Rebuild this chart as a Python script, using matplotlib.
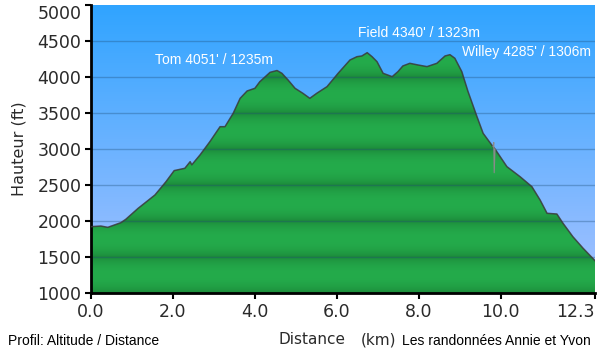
import numpy as np
import matplotlib
matplotlib.use("Agg")
import matplotlib.pyplot as plt

# ---- data ----
distance_km = [0.00, 0.24, 0.41, 0.73, 0.85, 1.15, 1.56, 1.83, 2.03, 2.29, 2.42, 2.46,
               2.66, 2.90, 3.15, 3.27, 3.47, 3.64, 3.81, 4.00, 4.12, 4.37, 4.54, 4.66,
               4.81, 4.98, 5.17, 5.34, 5.51, 5.76, 6.03, 6.32, 6.49, 6.61, 6.74, 6.86,
               6.98, 7.13, 7.35, 7.49, 7.61, 7.78, 7.98, 8.20, 8.44, 8.64, 8.76, 8.88,
               9.05, 9.20, 9.42, 9.57, 9.81, 9.83, 9.84, 9.86, 10.15, 10.47, 10.76,
               10.96, 11.13, 11.37, 11.52, 11.76, 12.01, 12.30]
elevation_ft = [1921, 1930, 1912, 1977, 2024, 2176, 2361, 2546, 2700, 2732, 2824, 2780,
                2917, 3101, 3310, 3310, 3496, 3704, 3806, 3843, 3935, 4065, 4090, 4051,
                3958, 3843, 3774, 3704, 3774, 3866, 4051, 4236, 4282, 4292, 4338, 4282,
                4213, 4051, 4005, 4074, 4153, 4190, 4167, 4144, 4190, 4292, 4310, 4260,
                4074, 3800, 3449, 3218, 3032, 3090, 2670, 3000, 2755, 2616, 2477,
                2292, 2107, 2097, 1968, 1782, 1621, 1449]

peak_labels = ["Tom 4051' / 1235m", "Field 4340' / 1323m", "Willey 4285' / 1306m"]
peak_label_pos = [(3.00, 4236), (8.00, 4611), (10.64, 4347)]
x_ticks = [0.0, 2.0, 4.0, 6.0, 8.0, 10.0, 12.3]
x_tick_labels = ["0.0", "2.0", "4.0", "6.0", "8.0", "10.0", "12.3"]
y_ticks = [1000, 1500, 2000, 2500, 3000, 3500, 4000, 4500, 5000]

XMAX, YMIN, YMAX = 12.3, 1000, 5000

fig = plt.figure(figsize=(6.0, 3.54), dpi=100)
ax = fig.add_axes([91/600, 61/354, 504/600, 288/354])
ax.set_xlim(0, XMAX)
ax.set_ylim(YMIN, YMAX)

# sky gradient
top = np.array([0x30, 0xA4, 0xFF]) / 255
bot = np.array([0xA8, 0xC2, 0xFF]) / 255
t = np.linspace(0, 1, 256)[:, None]
sky = (bot * (1 - t) + top * t)[:, None, :]
ax.imshow(sky, extent=[0, XMAX, YMIN, YMAX], origin="lower", aspect="auto", zorder=0)

# green banded gradient
ys = np.linspace(YMIN, YMAX, 800)
ph = ((ys - YMIN) % 500) / 500.0
w = np.sin(np.pi * ph) ** 0.6
light = np.array([0x24, 0xAB, 0x4B]) / 255
dark = np.array([0x1B, 0x86, 0x38]) / 255
green = (dark * (1 - w[:, None]) + light * w[:, None])[:, None, :]
im = ax.imshow(green, extent=[0, XMAX, YMIN, YMAX], origin="lower", aspect="auto", zorder=1)
poly = ax.fill_between(distance_km, elevation_ft, YMIN, color="none", zorder=1)
clip = poly.get_paths()[0]
im.set_clip_path(clip, transform=ax.transData)

# profile line (spike samples drawn faint)
d = np.array(distance_km)
e = np.array(elevation_ft)
spike = np.zeros(len(d), bool)
spike[53:55] = True
ax.plot(d[~spike], e[~spike], color="#3a3a3a", lw=1.1, zorder=3, alpha=0.85)
ax.plot(d[52:56], e[52:56], color="#8a8a8a", lw=0.8, zorder=3)

# grid
for y in y_ticks[1:-1]:
    ax.axhline(y, color="#1f4f7a", lw=1.0, alpha=0.35, zorder=2)

# peak labels
for lab, (px, py) in zip(peak_labels, peak_label_pos):
    ax.text(px, py, lab, color="white", fontsize=10, family="Liberation Sans",
            ha="center", va="center", zorder=4)

# axes styling
for s in ["top", "right"]:
    ax.spines[s].set_visible(False)
ax.spines["left"].set_linewidth(2)
ax.spines["bottom"].set_linewidth(2)
ax.set_xticks(x_ticks)
ax.set_xticklabels(x_tick_labels)
ax.set_yticks(y_ticks)
ax.tick_params(axis="both", direction="out", length=4, width=1.5, labelsize=12.5,
               labelcolor="#2a2a2a", pad=3)
xl = ax.get_xticklabels()
xl[-1].set_horizontalalignment("right")
yl = ax.get_yticklabels()
yl[-1].set_verticalalignment("top")

ax.set_ylabel("Hauteur (ft)", fontsize=11.5, color="#2a2a2a", labelpad=8)

fig.text(312/600, 1 - 340/354, "Distance", fontsize=11, color="#2a2a2a", ha="center", va="center")
fig.text(379/600, 1 - 340/354, "(km)", fontsize=11, color="#2a2a2a", ha="center", va="center")
fig.text(402/600, 1 - 341/354, "Les randonnées Annie et Yvon", fontsize=10,
         family="Liberation Sans", color="black", ha="left", va="center")
fig.text(8/600, 1 - 341/354, "Profil: Altitude / Distance", fontsize=10,
         family="Liberation Sans", color="black", ha="left", va="center")

fig.savefig("out.png", dpi=100)
